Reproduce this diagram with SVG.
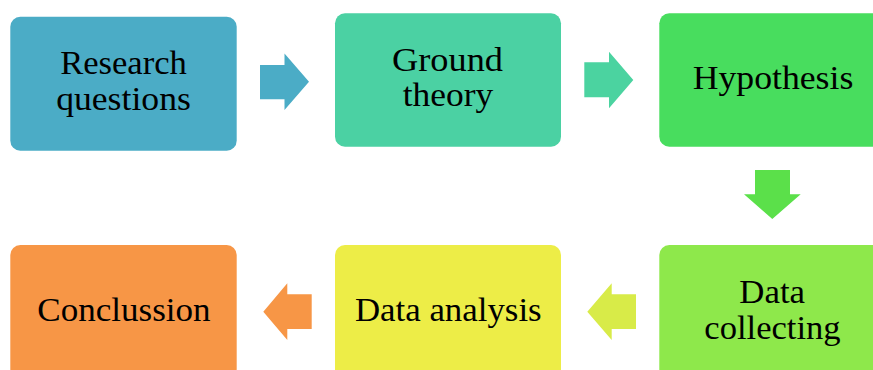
<svg xmlns="http://www.w3.org/2000/svg" width="873" height="370" viewBox="0 0 873 370">
<style>
.lbl{font-family:"Liberation Serif","Times New Roman",serif;font-size:33px;fill:#000;text-anchor:middle}
</style>
<rect width="873" height="370" fill="#fff"/>
<g id="connectors">
<polygon id="a1" points="260,65 284.5,65 284.5,53.5 309,81.7 284.5,110 284.5,99.3 260,99.3" fill="#4BACC6"/>
<polygon id="a2" points="584.3,62.3 609,62.3 609,51.7 633.3,80 609,108.3 609,97.3 584.3,97.3" fill="#4BD3A0"/>
<polygon id="a3" points="755,170 790,170 790,194.3 800.7,194.3 772.3,219 744,194.3 755,194.3" fill="#5BE04A"/>
<polygon id="a4" points="636,294.3 611.7,294.3 611.7,283.3 587.3,311.7 611.7,340 611.7,329 636,329" fill="#D8EB48"/>
<polygon id="a5" points="311.7,294.3 287.3,294.3 287.3,283.3 263.3,311.7 287.3,340 287.3,329 311.7,329" fill="#F79646"/>
</g>
<g id="n1">
<rect x="10.3" y="16.7" width="226.4" height="134" rx="10" fill="#4BACC6"/>
<text class="lbl" x="123.5" y="74" textLength="126.7" lengthAdjust="spacingAndGlyphs">Research</text>
<text class="lbl" x="123.5" y="109.5" textLength="134.7" lengthAdjust="spacingAndGlyphs">questions</text>
</g>
<g id="n2">
<rect x="335" y="13.3" width="226" height="133.4" rx="10" fill="#4BD1A3"/>
<text class="lbl" x="447.5" y="71" textLength="111" lengthAdjust="spacingAndGlyphs">Ground</text>
<text class="lbl" x="448" y="106" textLength="90.6" lengthAdjust="spacingAndGlyphs">theory</text>
</g>
<g id="n3">
<rect x="659.3" y="13.3" width="226" height="133.4" rx="10" fill="#48DD5E"/>
<text class="lbl" x="773" y="89.3" textLength="160.7" lengthAdjust="spacingAndGlyphs">Hypothesis</text>
</g>
<g id="n4">
<rect x="659.3" y="245" width="226" height="134" rx="10" fill="#8EE84B"/>
<text class="lbl" x="772.2" y="302.7" textLength="65.7" lengthAdjust="spacingAndGlyphs">Data</text>
<text class="lbl" x="772.5" y="339" textLength="136.3" lengthAdjust="spacingAndGlyphs">collecting</text>
</g>
<g id="n5">
<rect x="335" y="245" width="226" height="134" rx="10" fill="#EDED47"/>
<text class="lbl" x="448.3" y="321" textLength="186.7" lengthAdjust="spacingAndGlyphs">Data analysis</text>
</g>
<g id="n6">
<rect x="10.3" y="245" width="226.4" height="134" rx="10" fill="#F79646"/>
<text class="lbl" x="124" y="320.7" textLength="173.3" lengthAdjust="spacingAndGlyphs">Conclussion</text>
</g>
</svg>
